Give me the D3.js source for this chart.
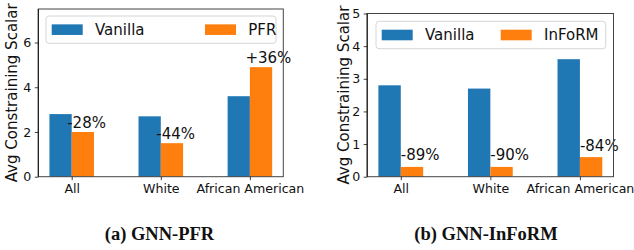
<!DOCTYPE html>
<html>
<head>
<meta charset="utf-8">
<script src="https://cdn.jsdelivr.net/npm/d3@7"></script>
<style>
  body { margin: 0; background: #fff; }
  svg text { font-family: "DejaVu Sans", sans-serif; fill: #111; }
  .caption { font-family: "Liberation Serif", serif; font-weight: bold; }
</style>
</head>
<body>
<svg id="chart" width="634" height="250"></svg>
<script>
const groups = ['All', 'White', 'African American']
const vanilla = [2.8, 2.7, 3.6]
const pfr = [2.0, 1.5, 4.9]
const pfrLabels = ['-28%', '-44%', '+36%']
const vanillaB = [2.8, 2.7, 3.6]
const inform = [0.3, 0.3, 0.6]
const informLabels = ['-89%', '-90%', '-84%']
const ticksA = [0, 2, 4, 6]
const ticksB = [0, 1, 2, 3, 4, 5]

const blue = '#1f77b4'
const orange = '#ff7f0e'
const svg = d3.select('#chart')

const panels = [
  {left: 38.3, right: 283.3, top: 9, bottom: 176.7, ymax: 7.5, ticks: ticksA,
   base: vanilla, other: pfr, labels: pfrLabels, name: 'PFR',
   labDx: -4.5, labDy: 4, legend: [46, 16, 230, 27.3], ylabX: 12,
   caption: '(a) GNN-PFR', capX: 159.5},
  {left: 367.2, right: 613.5, top: 13.5, bottom: 176.7, ymax: 5, ticks: ticksB,
   base: vanillaB, other: inform, labels: informLabels, name: 'InFoRM',
   labDx: 0, labDy: 6.5, legend: [376, 21.3, 229.7, 27.4], ylabX: 344,
   caption: '(b) GNN-InFoRM', capX: 486}
]

panels.forEach(p => {
  const x = d3.scaleLinear().domain([-0.375, 2.375]).range([p.left, p.right])
  const y = d3.scaleLinear().domain([0, p.ymax]).range([p.bottom, p.top])
  const g = svg.append('g')
  const bw = x(0.25) - x(0)

  g.selectAll('.van').data(p.base).enter().append('rect')
    .attr('x', (d, i) => x(i - 0.25)).attr('y', d => y(d))
    .attr('width', bw).attr('height', d => y(0) - y(d))
    .attr('fill', blue)
  g.selectAll('.oth').data(p.other).enter().append('rect')
    .attr('x', (d, i) => x(i)).attr('y', d => y(d))
    .attr('width', bw).attr('height', d => y(0) - y(d))
    .attr('fill', orange)

  g.selectAll('.pct').data(p.other).enter().append('text')
    .attr('x', (d, i) => x(i) + p.labDx).attr('y', d => y(d) - p.labDy)
    .attr('font-size', 15).text((d, i) => p.labels[i])

  // frame
  g.append('rect').attr('x', p.left).attr('y', p.top)
    .attr('width', p.right - p.left).attr('height', p.bottom - p.top)
    .attr('fill', 'none').attr('stroke', '#444').attr('stroke-width', 1)
  g.append('line').attr('x1', p.left).attr('x2', p.left)
    .attr('y1', p.top).attr('y2', p.bottom).attr('stroke', '#111')

  const yAxis = d3.axisLeft(y).tickValues(p.ticks).tickFormat(d3.format('d'))
    .tickSize(3.5).tickPadding(3.5)
  const ya = g.append('g').attr('transform', `translate(${p.left},0)`).call(yAxis)
  const xAxis = d3.axisBottom(x).tickValues([0, 1, 2]).tickFormat(i => groups[i])
    .tickSize(3.5).tickPadding(3.5)
  const xa = g.append('g').attr('transform', `translate(0,${p.bottom})`).call(xAxis)
  ;[ya, xa].forEach(a => {
    a.select('.domain').remove()
    a.selectAll('text').attr('font-size', 12.6).attr('font-family', null)
    a.selectAll('line').attr('stroke', '#111').attr('stroke-width', 0.8)
  })

  g.append('text')
    .attr('transform', `translate(${p.ylabX},${(p.top + p.bottom) / 2}) rotate(-90)`)
    .attr('text-anchor', 'middle').attr('dominant-baseline', 'central')
    .attr('font-size', 15).text('Avg Constraining Scalar')

  // legend
  const [lx, ly, lw, lh] = p.legend
  const lg = g.append('g')
  lg.append('rect').attr('x', lx).attr('y', ly).attr('width', lw).attr('height', lh)
    .attr('rx', 3).attr('fill', 'rgba(255,255,255,0.8)').attr('stroke', '#d6d6d6')
  const items = [['Vanilla', blue, 0], [p.name, orange, 1]]
  items.forEach(([t, c, k]) => {
    const ox = lx + 5.7 + k * 153.3 - (p.name === 'InFoRM' ? k * 34.3 : 0)
    lg.append('rect').attr('x', ox).attr('y', ly + lh / 2 - 5.3)
      .attr('width', 31).attr('height', 10.6).attr('fill', c)
    lg.append('text').attr('x', ox + 43.3).attr('y', ly + lh / 2)
      .attr('dominant-baseline', 'central').attr('font-size', 15).text(t)
  })

  svg.append('text').attr('class', 'caption')
    .attr('x', p.capX).attr('y', 240).attr('text-anchor', 'middle')
    .attr('font-size', 18.5).text(p.caption)
})
</script>
</body>
</html>
